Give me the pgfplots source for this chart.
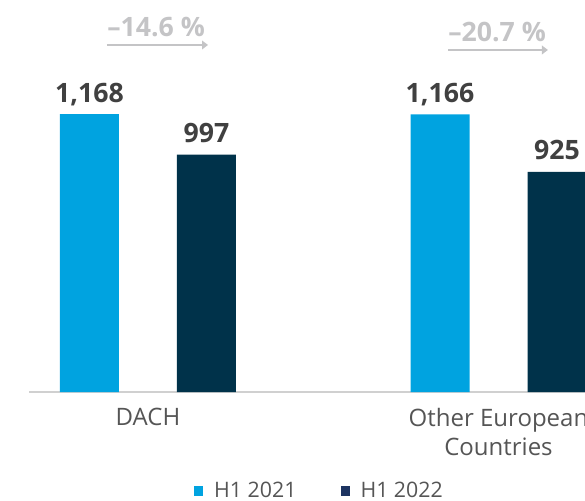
\documentclass[border=0pt]{standalone}
\usepackage{fontspec}
\setmainfont{Open Sans}
\usepackage{pgfplots}
\pgfplotsset{compat=1.18}
\usetikzlibrary{arrows.meta}

\definecolor{hlight}{HTML}{00A3E0}
\definecolor{hdark}{HTML}{00324A}
\definecolor{legdark}{HTML}{1D3461}
\definecolor{axisgrey}{HTML}{D0D0D0}
\definecolor{labgrey}{HTML}{555555}
\definecolor{valgrey}{HTML}{404040}
\definecolor{anngrey}{HTML}{C4C4C6}

\begin{document}
\begin{tikzpicture}
\begin{axis}[
  at={(21.75pt,81pt)}, anchor=south west,
  scale only axis, width=417pt, height=294pt,
  xmin=-0.3395, xmax=1.2468, ymin=0, ymax=1647,
  ybar=43.5pt, bar width=44.25pt,
  axis x line*=bottom, axis y line=none,
  x axis line style={draw=axisgrey, line width=1.5pt},
  xtick={0,1}, xticklabels={DACH, {Other European\\Countries}},
  major tick length=0pt,
  xticklabel style={align=center, font=\fontsize{18}{21.5}\selectfont, text=labgrey, inner sep=0pt, yshift=-12pt},
  ytick=\empty,
  nodes near coords,
  every node near coord/.append style={font=\bfseries\fontsize{20}{24}\selectfont, text=valgrey, anchor=base, inner sep=0pt, yshift=9pt},
  /pgf/number format/fixed,
  /pgf/number format/precision=0,
  /pgf/number format/1000 sep={,},
  /pgf/number format/assume math mode=true,
  legend style={at={(0.5207,-0.2526)}, anchor=center, draw=none, fill=none, inner sep=0pt,
    nodes={inner sep=0pt},
    font=\fontsize{16}{18}\selectfont, text=labgrey, legend columns=2,
    /tikz/every odd column/.append style={column sep=8.25pt},
    /tikz/every even column/.append style={column sep=33pt}},
  clip=false,
]
\addplot[fill=hlight, draw=none,
  legend image code/.code={\fill[hlight] (0pt,-3.4pt) rectangle (6.75pt,3.4pt);}]
  coordinates {(0,1168) (1,1166)};
\addlegendentry{H1 2021}
\addplot[fill=hdark, draw=none,
  legend image code/.code={\fill[legdark] (0pt,-3.4pt) rectangle (6.75pt,3.4pt);}]
  coordinates {(0,997) (1,925)};
\addlegendentry{H1 2022}

\node[anchor=base west, inner sep=0pt, font=\bfseries\fontsize{20}{24}\selectfont, text=anngrey]
  at (axis cs:-0.117,1491.6) {–14.6 \%};
\draw[anngrey, line width=2.2pt, -{Triangle[length=4.5pt, width=6.5pt]}]
  (axis cs:-0.117,1458) -- (axis cs:0.1712,1458);
\node[anchor=base west, inner sep=0pt, font=\bfseries\fontsize{20}{24}\selectfont, text=anngrey]
  at (axis cs:0.856,1470.6) {–20.7 \%};
\draw[anngrey, line width=2.2pt, -{Triangle[length=4.5pt, width=6.5pt]}]
  (axis cs:0.856,1437) -- (axis cs:1.141,1437);
\end{axis}
\pgfresetboundingbox
\useasboundingbox (0,0) rectangle (438.75pt,375pt);
\end{tikzpicture}
\end{document}
